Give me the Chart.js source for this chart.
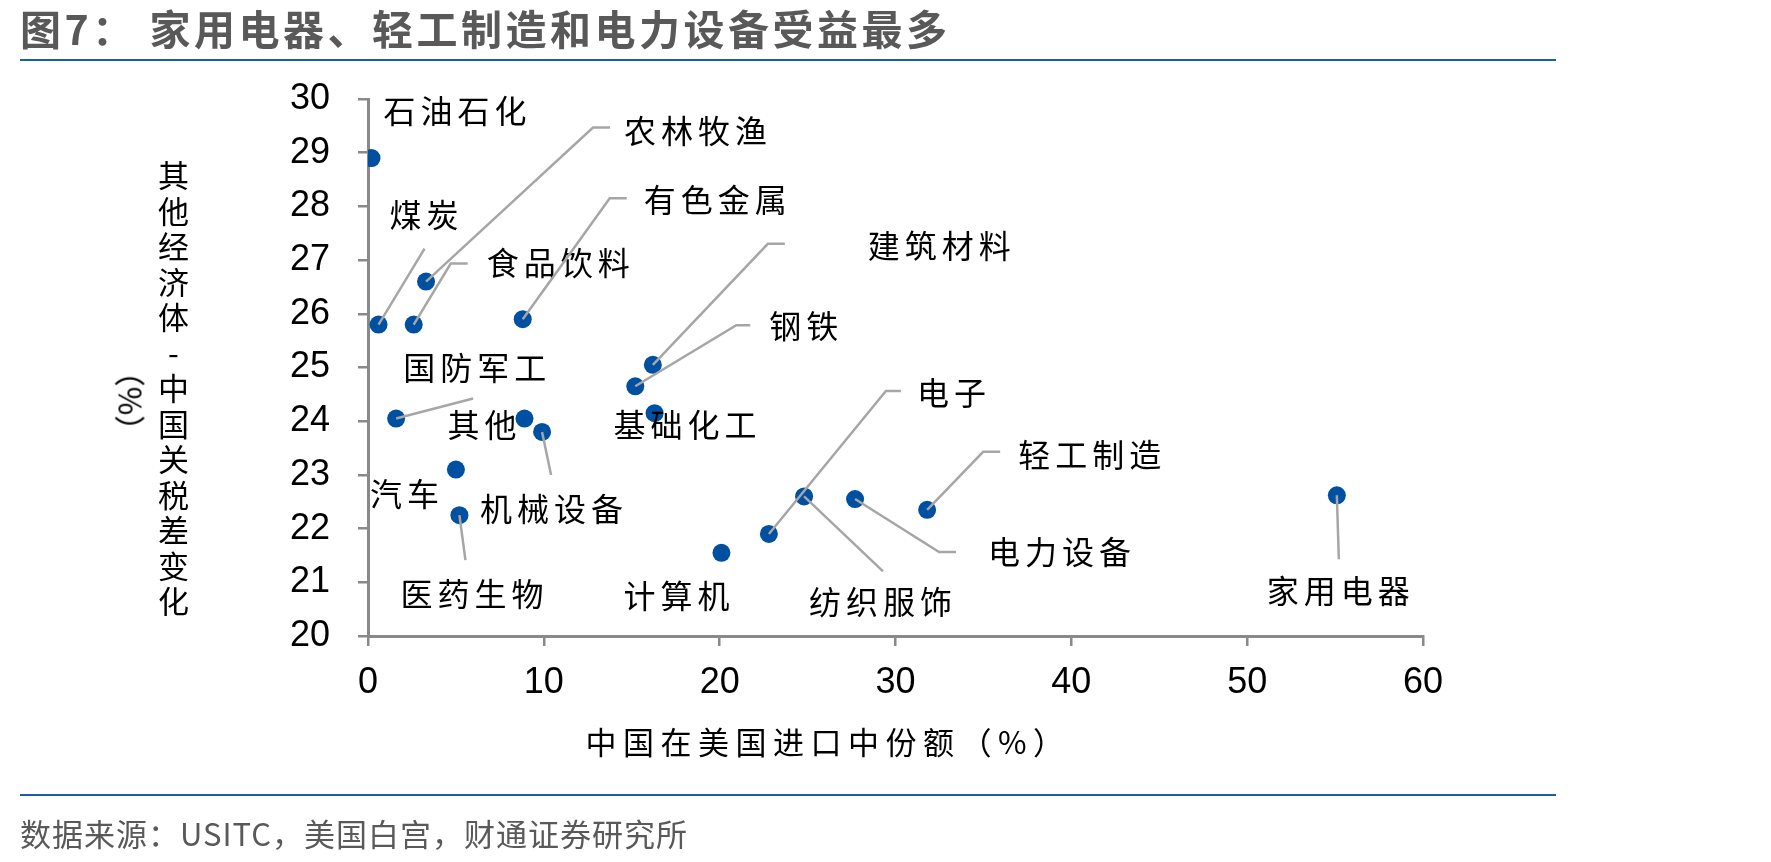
<!DOCTYPE html>
<html>
<head>
<meta charset="utf-8">
<script src="https://cdn.jsdelivr.net/npm/chart.js@4.4.1/dist/chart.umd.min.js"></script>
<style>
    body { margin: 0; background: #fff; }
    #wrap { position: relative; width: 1771px; height: 862px; overflow: hidden; font-family: "Noto Sans CJK SC", sans-serif; }
    #chart { position: absolute; left: 0; top: 0; }
    .title { position: absolute; left: 20px; top: 4px; font-size: 41px; font-weight: bold; color: #595959; letter-spacing: 3.5px; white-space: nowrap; line-height: 46px; }
    .rule { position: absolute; left: 20px; width: 1536px; height: 2px; background: #1a5dab; }
    .source { position: absolute; left: 20px; top: 814px; font-size: 31px; color: #595959; letter-spacing: 1px; white-space: nowrap; line-height: 38px; }
    .xtitle { position: absolute; left: 828px; top: 740px; transform: translate(-50%, -50%); font-size: 31px; letter-spacing: 6.5px; white-space: nowrap; color: #000; }
    .ytitle { position: absolute; left: 156px; top: 160px; writing-mode: vertical-rl; text-orientation: upright; font-size: 31px; letter-spacing: 4.5px; line-height: 34px; color: #000; white-space: nowrap; }
    .yunit { position: absolute; left: 132px; top: 401px; transform: translate(-50%, -50%) rotate(90deg); font-size: 31px; white-space: nowrap; color: #000; }
</style>
</head>
<body>
<div id="wrap">
    <canvas id="chart" width="1771" height="862"></canvas>
    <div class="title">图7：&nbsp;家用电器、轻工制造和电力设备受益最多</div>
    <div class="rule" style="top:59px"></div>
    <div class="rule" style="top:794px"></div>
    <div class="source">数据来源：USITC，美国白宫，财通证券研究所</div>
    <div class="xtitle">中国在美国进口中份额（%）</div>
    <div class="ytitle">其他经济体-中国关税差变化</div>
    <div class="yunit">（%）</div>
</div>
<script>
const sectors = ["石油石化", "煤炭", "农林牧渔", "食品饮料", "有色金属", "建筑材料", "钢铁", "基础化工",
    "国防军工", "其他", "机械设备", "汽车", "医药生物", "计算机", "电子", "纺织服饰", "电力设备", "轻工制造", "家用电器"];
const importShare = [0.2, 0.6, 3.3, 2.6, 8.8, 16.2, 15.2, 16.3, 1.6, 8.9, 9.9, 5.0, 5.2, 20.1, 22.8, 24.8, 27.7, 31.8, 55.1];
const tariffGap = [28.9, 25.8, 26.6, 25.8, 25.9, 25.05, 24.65, 24.15, 24.05, 24.05, 23.8, 23.1, 22.25, 21.55, 21.9, 22.6, 22.55, 22.35, 22.62];
const xTickValues = [0, 10, 20, 30, 40, 50, 60];
const yTickValues = [20, 21, 22, 23, 24, 25, 26, 27, 28, 29, 30];

// label placement, pixels relative to each point
const labelOffsets = [[12, -47], [11, -110], [198, -151], [73, -62], [121, -119], [215, -119], [134, -60], [-41, 12],
    [7, -51], [-77, 6], [-62, 77], [-86, 24], [-59, 79], [-98, 43], [148, -141], [5, 105], [133, 53], [91, -55], [-70, 96]];
const leaderLines = [
    [], [[46, -76]], [[167, -154], [184, -154]], [[37, -61], [54, -61]], [[87, -121], [104, -121]],
    [[115, -121], [132, -121]], [[101, -61], [115, -61]], [], [[77, -20]], [], [[9, 43]], [], [[6, 45]], [],
    [[117, -143], [132, -143]], [[79, 75]], [[84, 53], [101, 53]], [[56, -58], [73, -58]], [[2, 64]]
];

const sectorLabels = {
    id: "sectorLabels",
    afterDatasetsDraw(chart) {
        const ctx = chart.ctx;
        const meta = chart.getDatasetMeta(0);
        ctx.save();
        meta.data.forEach((pt, i) => {
            const x = pt.x, y = pt.y;
            if (leaderLines[i].length) {
                ctx.beginPath();
                ctx.moveTo(x, y);
                leaderLines[i].forEach(p => ctx.lineTo(x + p[0], y + p[1]));
                ctx.strokeStyle = "#a6a6a6";
                ctx.lineWidth = 2.5;
                ctx.stroke();
            }
            ctx.fillStyle = "#000";
            ctx.font = '32px "Noto Sans CJK SC"';
            ctx.textBaseline = "middle";
            ctx.textAlign = "left";
            const chars = Array.from(sectors[i]);
            chars.forEach((c, k) => {
                ctx.fillText(c, x + labelOffsets[i][0] + k * 37, y + labelOffsets[i][1]);
            });
        });
        ctx.restore();
    }
};

const points = importShare.map((v, i) => ({ x: v, y: tariffGap[i] }));

new Chart(document.getElementById("chart"), {
    type: "scatter",
    data: {
        datasets: [{
            data: points,
            backgroundColor: "#0050a2",
            borderWidth: 0,
            pointRadius: 9,
            pointHoverRadius: 9
        }]
    },
    options: {
        responsive: false,
        animation: false,
        events: [],
        layout: { padding: { left: 200, right: 348, top: 99, bottom: 100 } },
        plugins: { legend: { display: false }, tooltip: { enabled: false } },
        scales: {
            x: {
                type: "linear",
                min: 0,
                max: 60,
                afterBuildTicks: s => { s.ticks = xTickValues.map(v => ({ value: v })); },
                afterFit: s => { s.height = 126; },
                grid: { drawOnChartArea: false, tickLength: 10, color: "#898989", lineWidth: 2.5 },
                border: { color: "#898989", width: 3 },
                ticks: { color: "#000", padding: 15, font: { family: "Liberation Sans", size: 36 } }
            },
            y: {
                type: "linear",
                min: 20,
                max: 30,
                afterBuildTicks: s => { s.ticks = yTickValues.map(v => ({ value: v })); },
                afterFit: s => { s.width = 168; },
                grid: { drawOnChartArea: false, tickLength: 10, color: "#898989", lineWidth: 2.5 },
                border: { color: "#898989", width: 3 },
                ticks: { color: "#000", padding: 28, font: { family: "Liberation Sans", size: 36 } }
            }
        }
    },
    plugins: [sectorLabels]
});
</script>
</body>
</html>
